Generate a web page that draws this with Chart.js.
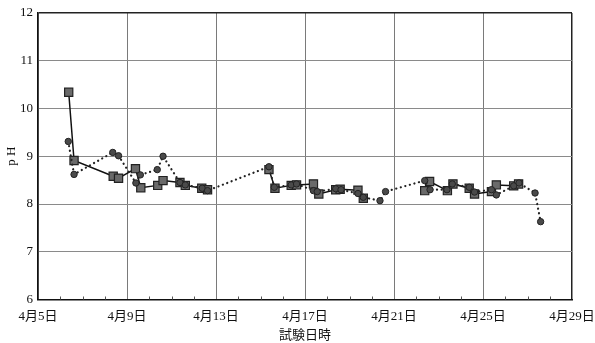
<!DOCTYPE html>
<html>
<head>
<meta charset="utf-8">
<script src="https://cdn.jsdelivr.net/npm/chart.js@4/dist/chart.umd.min.js"></script>
<style>
  html, body { margin: 0; padding: 0; background: #ffffff; }
  #c { display: block; }
</style>
</head>
<body>
<canvas id="c" width="595" height="343"></canvas>
<script>
// x positions are days elapsed since 4月5日 0:00 (samples taken morning / afternoon)
const tickLabels = ['4月5日', '4月9日', '4月13日', '4月17日', '4月21日', '4月25日', '4月29日'];
const yTicks = [6, 7, 8, 9, 10, 11, 12];

// series A (squares, solid line); null marks a break in sampling
const squareDays = [1.38, 1.62, 3.38, 3.62, 4.38, 4.62, 5.38, 5.62, 6.38, 6.62, 7.36, 7.62,
                    9.0,
                    10.38, 10.65, 11.38, 11.62, 12.38, 12.62, 13.38, 13.58, 14.38, 14.62,
                    16.0,
                    17.38, 17.6, 18.4, 18.65, 19.38, 19.62, 20.38, 20.6, 21.38, 21.6];
const squarePH   = [10.34, 8.91, 8.58, 8.54, 8.74, 8.34, 8.39, 8.49, 8.45, 8.39, 8.33, 8.30,
                    null,
                    8.72, 8.33, 8.39, 8.40, 8.42, 8.21, 8.30, 8.31, 8.29, 8.12,
                    null,
                    8.28, 8.47, 8.28, 8.42, 8.33, 8.21, 8.26, 8.40, 8.38, 8.42];

// series B (circles, dotted line)
const circleDays = [1.36, 1.62, 3.36, 3.62, 4.40, 4.60, 5.36, 5.62, 6.38, 6.62, 7.38, 7.62,
                    10.38, 10.62, 11.38, 11.62, 12.38, 12.55, 13.38, 13.62, 14.38, 14.62,
                    15.37, 15.62, 17.38, 17.62, 18.38, 18.62, 19.38, 19.62, 20.38, 20.6,
                    21.38, 21.62, 22.34, 22.59];
const circlePH   = [9.31, 8.62, 9.08, 9.01, 8.44, 8.61, 8.72, 9.00, 8.45, 8.40, 8.33, 8.28,
                    8.78, 8.35, 8.40, 8.42, 8.28, 8.26, 8.32, 8.30, 8.22, 8.14,
                    8.07, 8.26, 8.49, 8.30, 8.30, 8.42, 8.35, 8.25, 8.30, 8.19,
                    8.38, 8.44, 8.23, 7.63];

const toPoints = (xs, ys) => xs.map((x, i) => ({ x: x, y: ys[i] }));

const serifCJK = "'Liberation Serif', 'Noto Sans CJK JP', serif";

// short inward day ticks along the bottom axis
const dayTicks = {
  id: 'dayTicks',
  afterDatasetsDraw(chart) {
    const xs = chart.scales.x;
    const bottom = chart.chartArea.bottom;
    const ctx = chart.ctx;
    ctx.save();
    ctx.strokeStyle = '#555';
    ctx.lineWidth = 1;
    for (let d = 1; d < 24; d++) {
      if (d % 4 === 0) continue;
      const px = Math.round(xs.getPixelForValue(d)) + 0.5;
      ctx.beginPath();
      ctx.moveTo(px, bottom);
      ctx.lineTo(px, bottom - 3);
      ctx.stroke();
    }
    ctx.restore();
  }
};

new Chart(document.getElementById('c'), {
  type: 'line',
  data: {
    datasets: [
      {
        label: 'B',
        data: toPoints(circleDays, circlePH),
        borderColor: '#222',
        borderWidth: 2.2,
        borderDash: [0.1, 4.6],
        borderCapStyle: 'round',
        pointStyle: 'circle',
        pointRadius: 3.2,
        pointBackgroundColor: '#4a4a4a',
        pointBorderColor: '#222',
        pointBorderWidth: 1,
        spanGaps: true,
        tension: 0
      },
      {
        label: 'A',
        data: toPoints(squareDays, squarePH),
        borderColor: '#111',
        borderWidth: 1.5,
        pointStyle: 'rect',
        pointRadius: 5.8,
        pointBackgroundColor: '#6a6a6a',
        pointBorderColor: '#222',
        pointBorderWidth: 1.2,
        spanGaps: false,
        tension: 0
      }
    ]
  },
  options: {
    responsive: false,
    animation: false,
    devicePixelRatio: 1,
    layout: { padding: { top: 13, right: 0, bottom: 0, left: 0 } },
    plugins: {
      legend: { display: false },
      tooltip: { enabled: false }
    },
    scales: {
      x: {
        type: 'linear',
        min: 0,
        max: 24,
        afterBuildTicks(scale) {
          scale.ticks = tickLabels.map((_, i) => ({ value: i * 4 }));
        },
        afterFit(scale) {
          scale.height = 43.5;
          scale.paddingRight = 23;
        },
        ticks: {
          autoSkip: false,
          maxRotation: 0,
          padding: 9,
          color: '#111',
          font: { family: serifCJK, size: 13 },
          callback: (v) => tickLabels[Math.round(v / 4)]
        },
        grid: {
          drawTicks: false,
          color: (c) => (c.tick && c.tick.value === 24 ? '#222' : '#7a7a7a'),
          lineWidth: (c) => (c.tick && c.tick.value === 24 ? 1.5 : 1)
        },
        border: { color: '#111', width: 1.5 },
        title: {
          display: true,
          text: '試験日時',
          color: '#111',
          font: { family: serifCJK, size: 13 },
          padding: { top: -3, bottom: 0 }
        }
      },
      y: {
        min: 6,
        max: 12,
        afterBuildTicks(scale) {
          scale.ticks = yTicks.map((v) => ({ value: v }));
        },
        afterFit(scale) { scale.width = 38; },
        ticks: {
          padding: 5,
          color: '#111',
          font: { family: serifCJK, size: 13 }
        },
        grid: {
          drawTicks: false,
          color: (c) => (c.tick && c.tick.value === 12 ? '#222' : '#8a8a8a'),
          lineWidth: (c) => (c.tick && c.tick.value === 12 ? 1.5 : 1)
        },
        border: { color: '#111', width: 1.5 },
        title: {
          display: true,
          text: 'p H',
          color: '#111',
          font: { family: serifCJK, size: 13 },
          padding: { top: 4, bottom: 0 }
        }
      }
    }
  },
  plugins: [dayTicks]
});
</script>
</body>
</html>
